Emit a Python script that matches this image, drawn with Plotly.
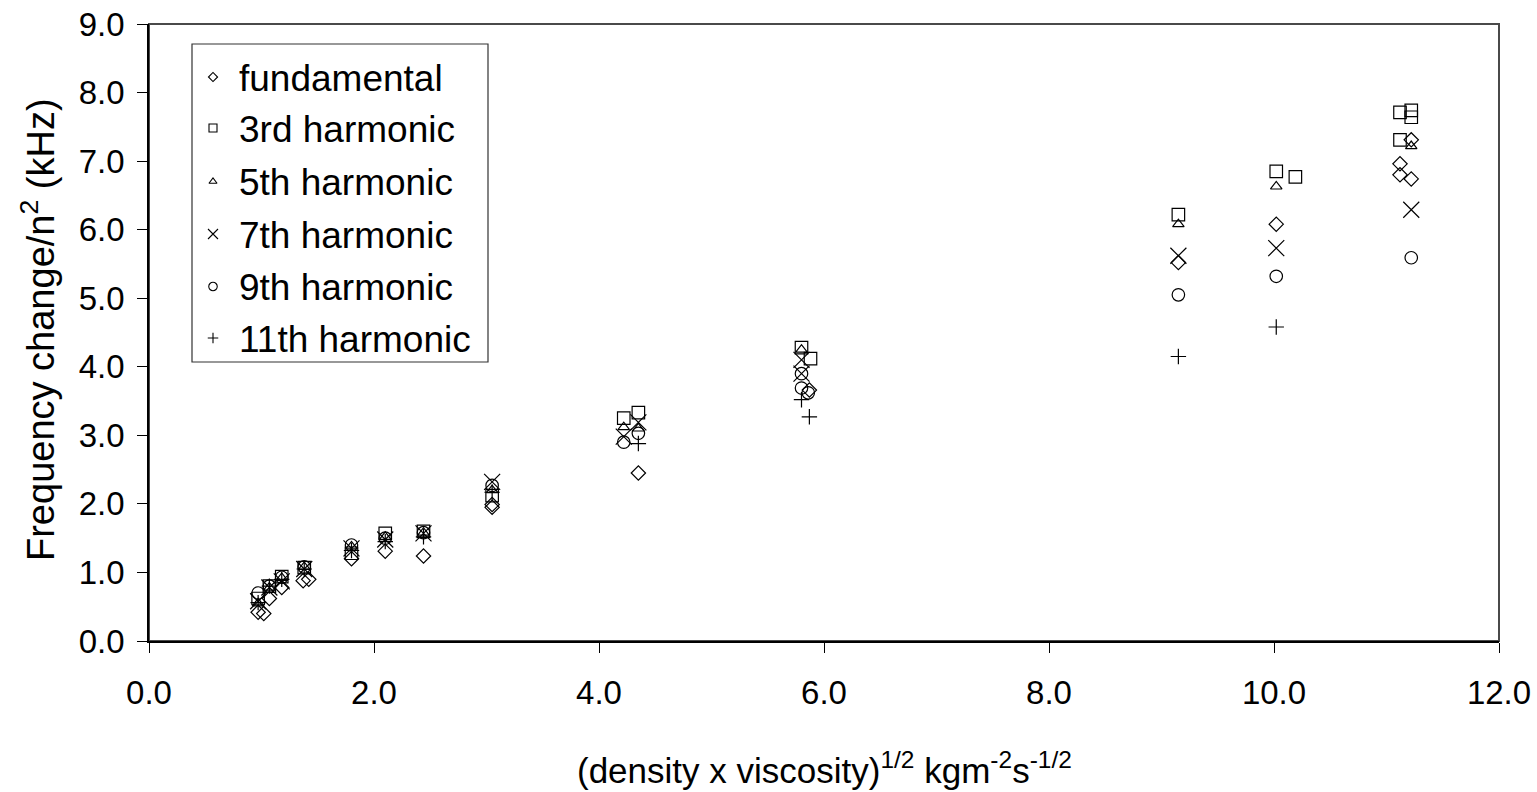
import plotly.graph_objects as go

# (density x viscosity)^1/2 values and frequency change / n^2 (kHz) per harmonic
fund_x = [0.97, 1.02, 1.07, 1.18, 1.37, 1.42, 1.80, 2.10, 2.44, 3.05, 3.05, 4.35, 5.87, 9.15, 10.02, 11.12, 11.12, 11.22, 11.22]
fund_y = [0.42, 0.40, 0.62, 0.78, 0.88, 0.90, 1.20, 1.31, 1.24, 1.95, 1.99, 2.45, 3.66, 5.52, 6.08, 6.96, 6.80, 6.74, 7.31]

h3_x = [0.97, 1.07, 1.18, 1.38, 1.80, 2.10, 2.44, 3.05, 4.22, 4.35, 5.80, 5.88, 9.15, 10.02, 10.19, 11.12, 11.22, 11.22, 11.12]
h3_y = [0.62, 0.80, 0.94, 1.07, 1.28, 1.57, 1.60, 2.12, 3.25, 3.33, 4.28, 4.12, 6.22, 6.85, 6.77, 7.71, 7.74, 7.64, 7.31]

h5_x = [0.97, 1.07, 1.18, 1.38, 1.80, 2.10, 2.44, 3.05, 4.22, 4.35, 5.80, 9.15, 10.02, 11.22]
h5_y = [0.55, 0.78, 0.92, 1.08, 1.38, 1.52, 1.58, 2.20, 3.12, 3.10, 4.25, 6.08, 6.63, 7.22]

h7_x = [0.97, 1.07, 1.18, 1.38, 1.80, 2.10, 2.44, 3.05, 4.22, 4.35, 5.80, 5.80, 9.15, 10.02, 11.22]
h7_y = [0.58, 0.78, 0.87, 1.05, 1.35, 1.48, 1.57, 2.32, 2.98, 3.19, 4.10, 3.90, 5.62, 5.73, 6.29]

h9_x = [0.97, 1.07, 1.18, 1.38, 1.80, 2.10, 2.44, 3.05, 4.22, 4.35, 5.80, 5.80, 5.86, 9.15, 10.02, 11.22]
h9_y = [0.70, 0.80, 0.93, 1.08, 1.40, 1.50, 1.58, 2.27, 2.90, 3.03, 3.90, 3.69, 3.62, 5.05, 5.32, 5.59]

h11_x = [0.97, 1.07, 1.18, 1.38, 1.80, 2.10, 2.44, 3.05, 4.35, 5.80, 5.87, 9.15, 10.02]
h11_y = [0.56, 0.80, 0.90, 1.05, 1.32, 1.45, 1.52, 2.17, 2.88, 3.52, 3.27, 4.15, 4.58]

series_names = ["fundamental", "3rd harmonic", "5th harmonic", "7th harmonic", "9th harmonic", "11th harmonic"]
x_tick_vals = [0, 2, 4, 6, 8, 10, 12]
y_tick_vals = [0, 1, 2, 3, 4, 5, 6, 7, 8, 9]

FONT = "Arial, 'Liberation Sans', sans-serif"
INK = "black"

# marker symbol, size in the plot, size in the key
styles = [
    ("diamond-open", 11, 7),
    ("square-open", 12.5, 8),
    ("triangle-up-open", 10, 7),
    ("x-thin-open", 16, 10),
    ("circle-open", 12.5, 8.5),
    ("cross-thin-open", 11, 7.5),
]
data = [(fund_x, fund_y), (h3_x, h3_y), (h5_x, h5_y), (h7_x, h7_y), (h9_x, h9_y), (h11_x, h11_y)]

fig = go.Figure()
for name, (xs, ys), (sym, size, _) in zip(series_names, data, styles):
    fig.add_trace(go.Scatter(
        x=xs, y=ys, mode="markers", name=name,
        marker=dict(symbol=sym, size=size, color=INK,
                    line=dict(color=INK, width=1.2)),
        cliponaxis=False,
    ))

# key: symbols on an overlay axis spanning the plot area in 0..1 units
W, H = 1537, 792
L, R, T, B = 149, 38, 24, 151
pw, ph = W - L - R, H - T - B


def px_x(p):
    return (p - L) / pw


def px_y(p):
    return (H - B - p) / ph


row_px = [77, 128, 181.5, 234, 286.5, 338]
for name, (sym, _, ksize), ry in zip(series_names, styles, row_px):
    fig.add_trace(go.Scatter(
        x=[px_x(213)], y=[px_y(ry)], xaxis="x2", yaxis="y2", mode="markers",
        marker=dict(symbol=sym, size=ksize, color=INK, line=dict(color=INK, width=1.1)),
        hoverinfo="skip", cliponaxis=False, showlegend=False,
    ))
    fig.add_annotation(
        x=px_x(237), y=px_y(ry + 1), xref="paper", yref="paper",
        text=name, showarrow=False, xanchor="left", yanchor="middle",
        font=dict(family=FONT, size=37, color=INK),
    )

fig.add_shape(type="rect", xref="paper", yref="paper",
              x0=px_x(192), x1=px_x(488), y0=px_y(362), y1=px_y(44),
              line=dict(color="#333333", width=1.2), fillcolor="rgba(0,0,0,0)")

# plot area frame (top/right); axis lines drawn on top for left/bottom
fig.add_shape(type="rect", xref="paper", yref="paper", x0=0, x1=1, y0=0, y1=1,
              line=dict(color="#4a4a4a", width=2), layer="below")

axis_common = dict(
    showgrid=False, zeroline=False, showline=True, linecolor=INK, linewidth=1.5,
    ticks="outside", ticklen=10, tickwidth=1.3, tickcolor=INK, automargin=False,
    tickformat=".1f", tickfont=dict(family=FONT, size=33, color=INK),
)
fig.update_layout(
    width=W, height=H,
    margin=dict(l=L, r=R, t=T, b=B, autoexpand=False),
    paper_bgcolor="white", plot_bgcolor="white",
    showlegend=False,
    xaxis=dict(range=[0, 12], tickvals=x_tick_vals, ticklabelstandoff=12, **axis_common),
    yaxis=dict(range=[0, 9], tickvals=y_tick_vals, ticklabelstandoff=6, **axis_common),
    xaxis2=dict(overlaying="x", anchor="y2", range=[0, 1], visible=False, fixedrange=True),
    yaxis2=dict(overlaying="y", anchor="x2", range=[0, 1], visible=False, fixedrange=True),
)

fig.add_annotation(
    x=px_x(38), y=px_y(330), xref="paper", yref="paper",
    text="Frequency change/n<sup>2</sup> (kHz)", textangle=-90, showarrow=False,
    xanchor="center", yanchor="middle", font=dict(family=FONT, size=38, color=INK),
)
fig.add_annotation(
    x=px_x(824), y=px_y(768), xref="paper", yref="paper",
    text="(density x viscosity)<sup>1/2</sup> kgm<sup>-2</sup>s<sup>-1/2</sup>",
    showarrow=False, xanchor="center", yanchor="middle",
    font=dict(family=FONT, size=35, color=INK),
)

fig.write_html("out.html")
